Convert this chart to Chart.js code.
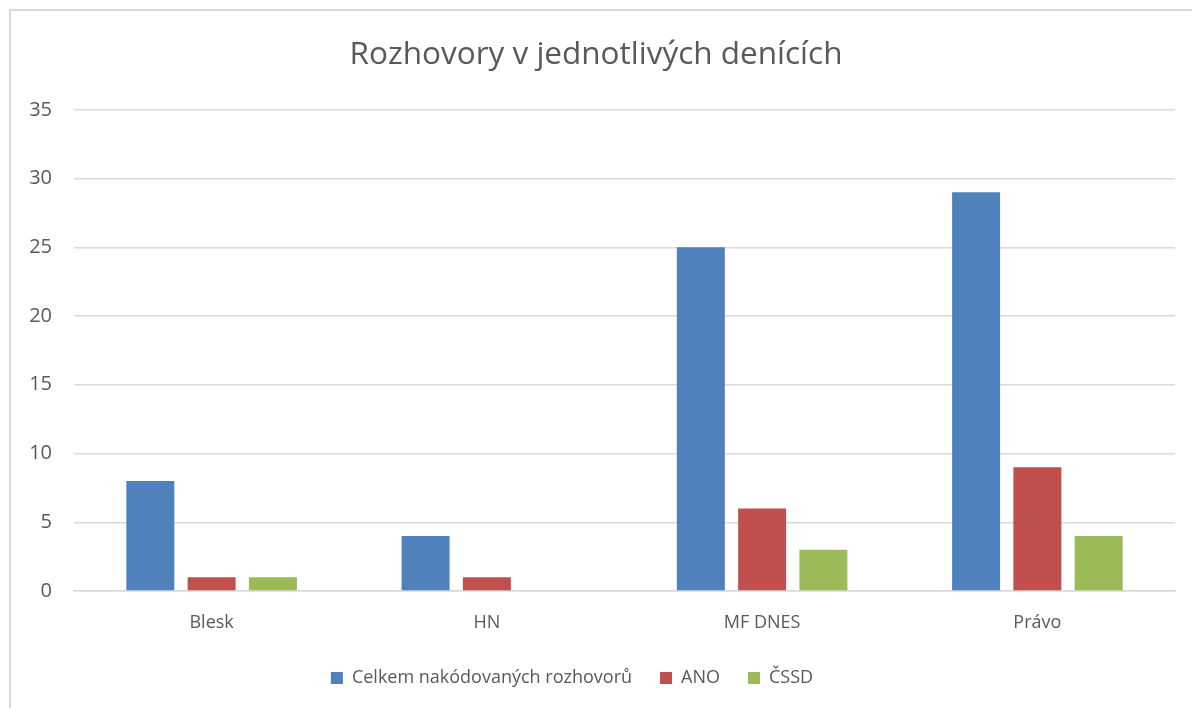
<!DOCTYPE html>
<html>
<head>
<meta charset="utf-8">
<script src="https://cdn.jsdelivr.net/npm/chart.js@4"></script>
<style>
  body { margin: 0; background: #fff; }
  #wrap { position: relative; width: 1192px; height: 708px; overflow: hidden; }
  #frame { position: absolute; left: 9px; top: 9px; width: 1200px; height: 720px; border: 2px solid #d9d9d9; }
  canvas { position: absolute; left: 0; top: 0; }
</style>
</head>
<body>
<div id="wrap">
  <div id="frame"></div>
  <canvas id="chart" width="1192" height="708"></canvas>
</div>
<script>
const categories = ["Blesk", "HN", "MF DNES", "Právo"];
const seriesNames = ["Celkem nakódovaných rozhovorů", "ANO", "ČSSD"];
const totalValues = [8, 4, 25, 29];
const anoValues = [1, 1, 6, 9];
const cssdValues = [1, 0, 3, 4];
const colors = ["#4f81bd", "#c0504d", "#9bbb59"];

const font = "'Open Sans', 'Noto Sans', sans-serif";
const textColor = "#595959";

// legend sits a bit left of centre in the original
const legendShift = {
  id: "legendShift",
  afterLayout(chart) {
    chart.legend.left -= 24;
    chart.legend.right -= 24;
  },
};

const ctx = document.getElementById("chart").getContext("2d");

new Chart(ctx, {
  type: "bar",
  data: {
    labels: categories,
    datasets: [totalValues, anoValues, cssdValues].map((vals, i) => ({
      label: seriesNames[i],
      data: vals,
      backgroundColor: colors[i],
      borderWidth: 0,
      barPercentage: 0.783,
      categoryPercentage: 0.668,
    })),
  },
  options: {
    responsive: false,
    animation: false,
    layout: { padding: { left: 17, right: 17, top: 0, bottom: 11 } },
    plugins: {
      title: {
        display: true,
        text: "Rozhovory v jednotlivých denících",
        color: textColor,
        font: { family: font, size: 31.5, weight: "normal" },
        padding: { top: 36, bottom: 36 },
      },
      legend: {
        position: "bottom",
        labels: {
          color: textColor,
          font: { family: font, size: 18 },
          boxWidth: 12,
          boxHeight: 12,
          padding: 28,
        },
      },
      tooltip: { enabled: false },
    },
    scales: {
      x: {
        grid: { display: false, drawTicks: false },
        border: { color: "#d9d9d9", width: 1.5 },
        ticks: { color: textColor, font: { family: font, size: 18 }, padding: 21 },
        afterFit: (s) => { s.height = 50; },
      },
      y: {
        min: 0,
        max: 35,
        ticks: { stepSize: 5, color: textColor, font: { family: font, size: 20 }, padding: 22 },
        grid: { color: "#d9d9d9", lineWidth: 1.5, drawTicks: false },
        border: { display: false },
        afterFit: (s) => { s.width = 57; },
      },
    },
  },
  plugins: [legendShift],
});
</script>
</body>
</html>
